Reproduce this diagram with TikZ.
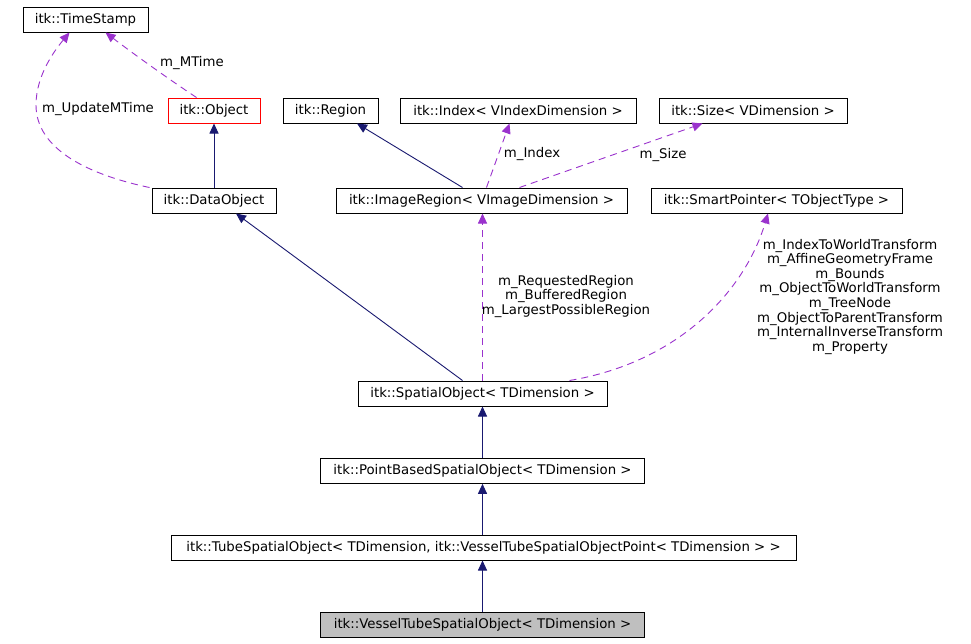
\documentclass[tikz,border=0pt]{standalone}
\usepackage{fontspec}
\setmainfont{DejaVu Sans}
\usetikzlibrary{arrows.meta,calc}
\definecolor{inhcol}{HTML}{191970}
\definecolor{usecol}{HTML}{9A32CD}
\begin{document}
\begin{tikzpicture}[x=1pt,y=-1pt,
  cls/.style={draw=black, line width=1pt, minimum height=25pt, inner sep=0pt, fill=white,
              font=\fontsize{13.3}{14.6}\selectfont},
  lbl/.style={inner sep=0pt, align=center, font=\fontsize{13.3}{14.6}\selectfont},
  inhe/.style={draw=inhcol, line width=0.9pt, -{Triangle[length=10pt,width=9pt,fill=inhcol]}},
  usee/.style={draw=usecol, line width=0.9pt, dash pattern=on 7pt off 5pt,
               -{Triangle[length=10pt,width=9pt,fill=usecol]}},
]
\useasboundingbox (0,0) rectangle (971,643);
\fill[white] (0,0) rectangle (971,643);

% nodes
\node[cls, minimum width=125pt] (ts)   at (85.5,19.5)  {itk::TimeStamp};
\node[cls, minimum width=92pt, draw=red] (obj) at (214,110.5) {itk::Object};
\node[cls, minimum width=95pt]  (reg)  at (330.5,110.5) {itk::Region};
\node[cls, minimum width=236pt] (idx)  at (518,110.5)  {itk::Index< VIndexDimension >};
\node[cls, minimum width=188pt] (size) at (753,110.5)  {itk::Size< VDimension >};
\node[cls, minimum width=124pt] (dobj) at (214,200.5)  {itk::DataObject};
\node[cls, minimum width=291pt] (ireg) at (481.5,200.5) {itk::ImageRegion< VImageDimension >};
\node[cls, minimum width=251pt] (sp)   at (776.5,200.5) {itk::SmartPointer< TObjectType >};
\node[cls, minimum width=249pt] (so)   at (482.5,393.5) {itk::SpatialObject< TDimension >};
\node[cls, minimum width=324pt] (pb)   at (482.5,470.8) {itk::PointBasedSpatialObject< TDimension >};
\node[cls, minimum width=625pt] (tube) at (483.5,547.5) {itk::TubeSpatialObject< TDimension, itk::VesselTubeSpatialObjectPoint< TDimension > >};
\node[cls, minimum width=324pt, fill={rgb,255:red,191;green,191;blue,191}] (vts) at (482.5,625) {itk::VesselTubeSpatialObject< TDimension >};

% inheritance edges
\draw[inhe] (dobj.north) -- (obj.south);
\draw[inhe] ($(ireg.north west)+(127,0)$) -- ($(reg.south)+(26.5,0)$);
\draw[inhe] ($(so.north west)+(105,0)$) -- ($(dobj.south)+(22,0)$);
\draw[inhe] (pb.north) -- (so.south);
\draw[inhe] (tube.north -| pb.north) -- (pb.south);
\draw[inhe] (vts.north) -- (vts.north |- tube.south);

% usage edges
\draw[usee] ($(obj.north west)+(29,0)$) .. controls (170,80) and (135,55) .. ($(ts.south west)+(83,0)$);
\draw[usee] ($(dobj.north west)+(-2,0)$) .. controls (90,175) and (36,150) .. (36,105)
            .. controls (36,75) and (55,50) .. ($(ts.south west)+(47,0)$);
\draw[usee] ($(ireg.north west)+(151,0)$) -- ($(idx.south west)+(110,0)$);
\draw[usee] ($(ireg.north west)+(184,0)$) -- ($(size.south west)+(44,0)$);
\draw[usee] (so.north) -- (so.north |- ireg.south);
\draw[usee] ($(so.north west)+(212,0)$) .. controls (680,362) and (745,290) .. ($(sp.south)+(-8.5,0)$);

% labels
\node[lbl] (lmt)  at (192,63)   {m\_MTime};
\node[lbl] (lumt) at (98,109)   {m\_UpdateMTime};
\node[lbl] (lidx) at (532,154.5) {m\_Index};
\node[lbl] (lsz)  at (663,155)  {m\_Size};
\node[lbl] (lreg) at (566,296.3) {m\_RequestedRegion\\m\_BufferedRegion\\m\_LargestPossibleRegion};
\node[lbl] (lsp)  at (850,296.7) {m\_IndexToWorldTransform\\m\_AffineGeometryFrame\\m\_Bounds\\m\_ObjectToWorldTransform\\m\_TreeNode\\m\_ObjectToParentTransform\\m\_InternalInverseTransform\\m\_Property};
\end{tikzpicture}
\end{document}
